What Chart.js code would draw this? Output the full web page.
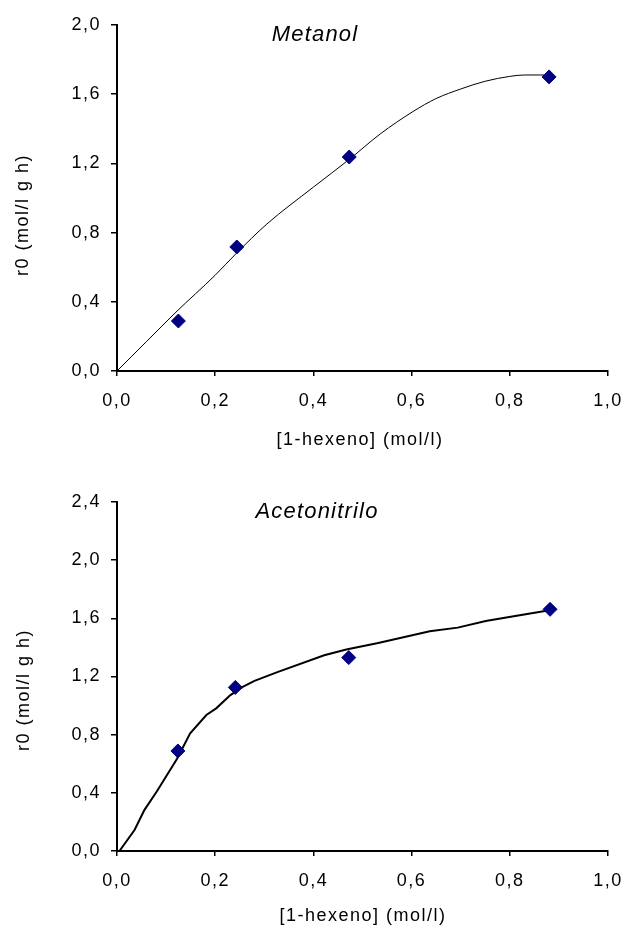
<!DOCTYPE html>
<html><head><meta charset="utf-8">
<script src="https://cdn.jsdelivr.net/npm/chart.js@4"></script>
<style>
html,body{margin:0;padding:0;background:#fff;}
canvas{display:block;}
</style></head>
<body>
<canvas id="c1" width="624" height="460"></canvas>
<canvas id="c2" width="624" height="467"></canvas>
<script>
// ---- data ----
const xTickValues = [0, 0.2, 0.4, 0.6, 0.8, 1.0];
const xTickLabels = ['0,0', '0,2', '0,4', '0,6', '0,8', '1,0'];
const metanolYTickValues = [0, 0.4, 0.8, 1.2, 1.6, 2.0];
const metanolYTickLabels = ['0,0', '0,4', '0,8', '1,2', '1,6', '2,0'];
const acetoYTickValues = [0, 0.4, 0.8, 1.2, 1.6, 2.0, 2.4];
const acetoYTickLabels = ['0,0', '0,4', '0,8', '1,2', '1,6', '2,0', '2,4'];

const metanolX = [0.125, 0.244, 0.473, 0.88];
const metanolY = [0.289, 0.717, 1.237, 1.70];
const metanolFitX = [0, 0.03, 0.06, 0.12, 0.2, 0.243, 0.305, 0.4, 0.473, 0.536, 0.603, 0.65, 0.7, 0.75, 0.8, 0.83, 0.86, 0.88];
const metanolFitY = [0, 0.085, 0.17, 0.34, 0.554, 0.68, 0.849, 1.063, 1.223, 1.37, 1.5, 1.575, 1.63, 1.675, 1.703, 1.711, 1.711, 1.711];

const acetoX = [0.124, 0.241, 0.472, 0.882];
const acetoY = [0.688, 1.125, 1.330, 1.662];
const acetoFitX = [0.005, 0.036, 0.056, 0.081, 0.122, 0.149, 0.182, 0.202, 0.231, 0.256, 0.28, 0.328, 0.422, 0.467, 0.532, 0.637, 0.694, 0.751, 0.808, 0.893];
const acetoFitY = [0, 0.146, 0.283, 0.409, 0.633, 0.809, 0.935, 0.981, 1.072, 1.129, 1.170, 1.232, 1.346, 1.385, 1.431, 1.511, 1.536, 1.582, 1.614, 1.662];

const xTitle = '[1-hexeno] (mol/l)';
const yTitle = 'r0 (mol/l g h)';

// ---- rendering ----
const FONT = '"Liberation Sans", Arial, sans-serif';
const SPACING = '1.5px';

const spacingPlugin = {
  id: 'spacing',
  beforeLayout(chart) { chart.ctx.letterSpacing = SPACING; },
  beforeDraw(chart) { chart.ctx.letterSpacing = SPACING; }
};

const textPlugin = {
  id: 'texts',
  afterDraw(chart, args, o) {
    const ctx = chart.ctx;
    ctx.save();
    ctx.fillStyle = '#000';
    ctx.textAlign = 'center';
    ctx.textBaseline = 'alphabetic';
    ctx.letterSpacing = '1.2px';
    ctx.font = 'italic 22px ' + FONT;
    ctx.fillText(o.title, o.tx, o.ty);
    ctx.letterSpacing = SPACING;
    ctx.font = '18px ' + FONT;
    ctx.fillText(o.xTitle, o.xx, o.xy);
    ctx.translate(o.yx, o.yy);
    ctx.rotate(-Math.PI / 2);
    ctx.textBaseline = 'middle';
    ctx.fillText(o.yTitle, 0, 0);
    ctx.restore();
  }
};

function makeChart(id, cfg) {
  const pts = cfg.px.map((x, i) => ({x: x, y: cfg.py[i]}));
  const fit = cfg.fx.map((x, i) => ({x: x, y: cfg.fy[i]}));
  return new Chart(document.getElementById(id), {
    type: 'scatter',
    data: {
      datasets: [
        {
          data: pts,
          pointStyle: 'rectRot',
          pointRadius: 7,
          pointBorderWidth: 1,
          backgroundColor: '#000080',
          borderColor: '#000080',
          showLine: false
        },
        {
          data: fit,
          showLine: true,
          pointRadius: 0,
          borderColor: '#000',
          borderWidth: cfg.lw,
          tension: cfg.tension,
          cubicInterpolationMode: cfg.tension ? 'monotone' : 'default',
          fill: false
        }
      ]
    },
    options: {
      responsive: false,
      animation: false,
      events: [],
      layout: {padding: {top: cfg.top, right: 16, bottom: 0, left: 0}},
      plugins: {
        legend: {display: false},
        tooltip: {enabled: false},
        texts: cfg.texts
      },
      scales: {
        x: {
          type: 'linear',
          min: 0, max: 1,
          afterBuildTicks: s => { s.ticks = xTickValues.map(v => ({value: v})); },
          afterFit: s => { s.height = cfg.xh; s.paddingRight = 0; s.paddingLeft = 0; },
          grid: {drawOnChartArea: false, drawTicks: true, tickLength: 5, color: '#000', lineWidth: 1.5},
          border: {display: true, color: '#000', width: 2},
          ticks: {
            color: '#000', padding: 14, maxRotation: 0,
            font: {family: FONT, size: 18},
            callback: (v, i) => xTickLabels[i]
          }
        },
        y: {
          type: 'linear',
          min: 0, max: cfg.ymax,
          afterBuildTicks: s => { s.ticks = cfg.yv.map(v => ({value: v})); },
          afterFit: s => { s.width = 117; s.paddingTop = 0; s.paddingBottom = 0; },
          grid: {drawOnChartArea: false, drawTicks: true, tickLength: 6, color: '#000', lineWidth: 1.5},
          border: {display: true, color: '#000', width: 2},
          ticks: {
            color: '#000', padding: 10,
            font: {family: FONT, size: 18},
            callback: (v, i) => cfg.yl[i]
          }
        }
      }
    },
    plugins: [spacingPlugin, textPlugin]
  });
}

makeChart('c1', {
  px: metanolX, py: metanolY, fx: metanolFitX, fy: metanolFitY,
  lw: 1, tension: 0.4, top: 25, xh: 89, ymax: 2.0,
  yv: metanolYTickValues, yl: metanolYTickLabels,
  texts: {title: 'Metanol', tx: 315, ty: 41, xTitle: xTitle, xx: 360, xy: 445, yTitle: yTitle, yx: 23, yy: 215}
});

makeChart('c2', {
  px: acetoX, py: acetoY, fx: acetoFitX, fy: acetoFitY,
  lw: 2, tension: 0, top: 42, xh: 76, ymax: 2.4,
  yv: acetoYTickValues, yl: acetoYTickLabels,
  texts: {title: 'Acetonitrilo', tx: 317, ty: 58, xTitle: xTitle, xx: 363, xy: 461, yTitle: yTitle, yx: 24, yy: 230}
});
</script>
</body></html>
